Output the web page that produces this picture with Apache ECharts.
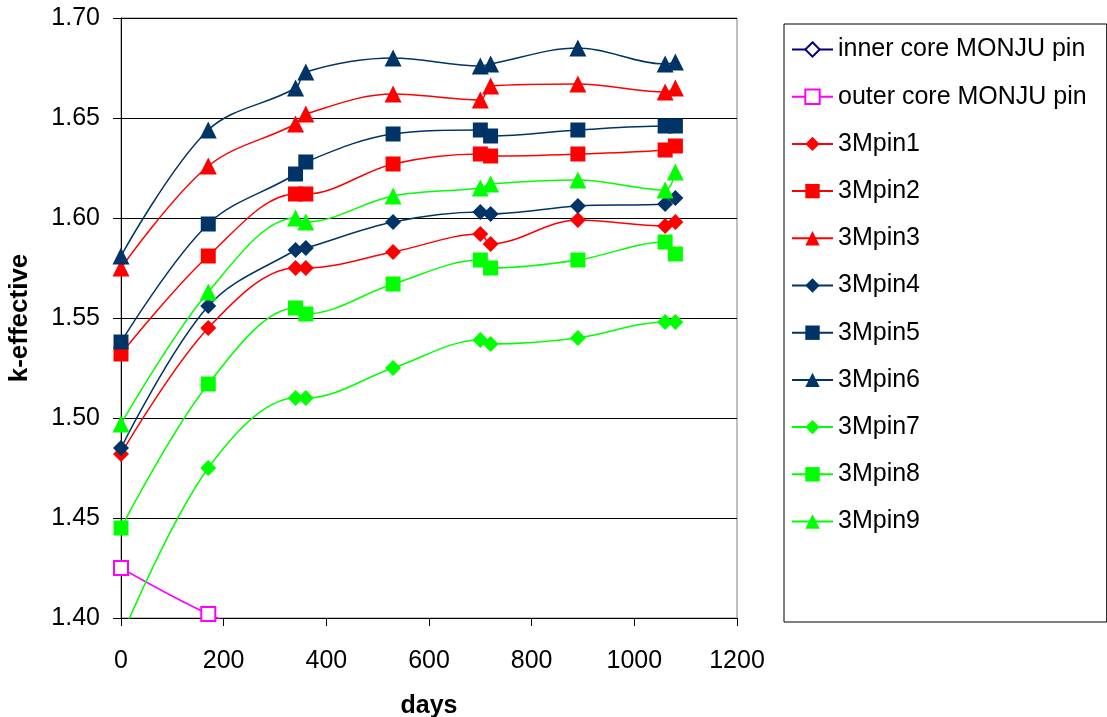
<!DOCTYPE html>
<html>
<head>
<meta charset="utf-8">
<script src="https://cdn.jsdelivr.net/npm/echarts@6/dist/echarts.min.js"></script>
<style>
html,body{margin:0;padding:0;background:#fff;}
#chart{width:1107px;height:717px;}
</style>
</head>
<body>
<div id="chart"></div>
<script>
// ---- data ----
const days = [0, 170, 340, 360, 530, 700, 720, 890, 1060, 1080];
const innerCore = [];
const outerCore = [1.425, 1.402, 1.385];
const pin1 = [1.482, 1.545, 1.575, 1.575, 1.583, 1.592, 1.587, 1.599, 1.596, 1.598];
const pin2 = [1.532, 1.581, 1.612, 1.612, 1.627, 1.632, 1.631, 1.632, 1.634, 1.636];
const pin3 = [1.575, 1.626, 1.647, 1.652, 1.662, 1.659, 1.666, 1.667, 1.663, 1.665];
const pin4 = [1.485, 1.556, 1.584, 1.585, 1.598, 1.603, 1.602, 1.606, 1.607, 1.610];
const pin5 = [1.538, 1.597, 1.622, 1.628, 1.642, 1.644, 1.641, 1.644, 1.646, 1.646];
const pin6 = [1.581, 1.644, 1.665, 1.673, 1.680, 1.676, 1.677, 1.685, 1.677, 1.678];
const pin7 = [1.390, 1.475, 1.510, 1.510, 1.525, 1.539, 1.537, 1.540, 1.548, 1.548];
const pin8 = [1.445, 1.517, 1.555, 1.552, 1.567, 1.579, 1.575, 1.579, 1.588, 1.582];
const pin9 = [1.497, 1.563, 1.600, 1.598, 1.611, 1.615, 1.617, 1.619, 1.614, 1.623];
const xTicks = [0, 200, 400, 600, 800, 1000, 1200];
const yTicks = [1.40, 1.45, 1.50, 1.55, 1.60, 1.65, 1.70];

const FONT = '"Liberation Sans", Arial, sans-serif';
const NAVY = '#003366', RED = '#ff0000', GREEN = '#00ff00', MAGENTA = '#ff00ff', DARKBLUE = '#000080';

function pairs(vals) { return vals.map((v, i) => [days[i], v]); }

const defs = [
  {name: 'inner core MONJU pin', vals: innerCore, color: DARKBLUE, symbol: 'emptyDiamond', size: 14},
  {name: 'outer core MONJU pin', vals: outerCore, color: MAGENTA, symbol: 'emptyRect', size: 14},
  {name: '3Mpin1', vals: pin1, color: RED, symbol: 'diamond', size: 16},
  {name: '3Mpin2', vals: pin2, color: RED, symbol: 'rect', size: 15},
  {name: '3Mpin3', vals: pin3, color: RED, symbol: 'triangle', size: 17},
  {name: '3Mpin4', vals: pin4, color: NAVY, symbol: 'diamond', size: 16},
  {name: '3Mpin5', vals: pin5, color: NAVY, symbol: 'rect', size: 15},
  {name: '3Mpin6', vals: pin6, color: NAVY, symbol: 'triangle', size: 17},
  {name: '3Mpin7', vals: pin7, color: GREEN, symbol: 'diamond', size: 16},
  {name: '3Mpin8', vals: pin8, color: GREEN, symbol: 'rect', size: 15},
  {name: '3Mpin9', vals: pin9, color: GREEN, symbol: 'triangle', size: 17}
];

const series = defs.map(d => ({
  name: d.name,
  type: 'line',
  data: pairs(d.vals),
  smooth: 0.35,
  symbol: d.symbol,
  symbolSize: d.size,
  showAllSymbol: true,
  color: d.color,
  itemStyle: {color: d.color, borderColor: d.color, borderWidth: d.symbol.startsWith('empty') ? 1.5 : 0},
  lineStyle: {color: d.color, width: 1.5},
  emphasis: {disabled: true},
  animation: false,
  clip: true
}));

const chart = echarts.init(document.getElementById('chart'), null, {renderer: 'canvas'});
chart.setOption({
  backgroundColor: '#ffffff',
  animation: false,
  textStyle: {fontFamily: FONT},
  grid: {
    left: 121, top: 18, right: 370, bottom: 99,
    show: true, borderColor: '#808080', borderWidth: 1, backgroundColor: 'transparent',
    containLabel: false, outerBoundsMode: 'none'
  },
  xAxis: {
    type: 'value',
    min: xTicks[0], max: xTicks[xTicks.length - 1], interval: 200,
    name: 'days', nameLocation: 'middle', nameGap: 76,
    nameTextStyle: {fontFamily: FONT, fontSize: 25, fontWeight: 'bold', color: '#000'},
    axisLine: {show: true, onZero: false, lineStyle: {color: '#000', width: 1}},
    axisTick: {show: true, inside: false, length: 8, lineStyle: {color: '#000'}},
    axisLabel: {fontFamily: FONT, fontSize: 25, color: '#000', margin: 31,
      formatter: v => String(v)},
    splitLine: {show: false}
  },
  yAxis: {
    type: 'value',
    min: yTicks[0], max: yTicks[yTicks.length - 1], interval: 0.05,
    name: 'k-effective', nameLocation: 'middle', nameGap: 88,
    nameTextStyle: {fontFamily: FONT, fontSize: 26, fontWeight: 'bold', color: '#000'},
    axisLine: {show: true, onZero: false, lineStyle: {color: '#000', width: 1}},
    axisTick: {show: true, inside: false, length: 8, lineStyle: {color: '#000'}},
    axisLabel: {fontFamily: FONT, fontSize: 25, color: '#000', margin: 21,
      formatter: v => v.toFixed(2)},
    splitLine: {show: true, lineStyle: {color: '#000', width: 1}}
  },
  legend: {
    orient: 'vertical',
    left: 784, top: 24,
    padding: [13, 20, 88, 7],
    itemWidth: 41, itemHeight: 18, itemGap: 22.2,
    borderColor: '#000', borderWidth: 1,
    backgroundColor: '#fff',
    textStyle: {fontFamily: FONT, fontSize: 25, color: '#000', lineHeight: 25},
    data: defs.map(d => d.name),
    selectedMode: false
  },
  series: series
});
</script>
</body>
</html>
